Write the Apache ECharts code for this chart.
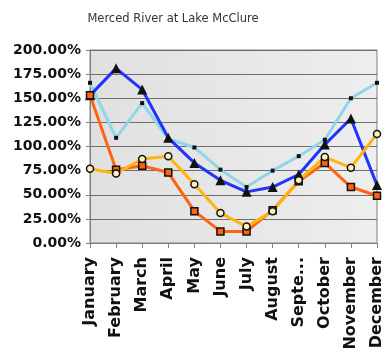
<!DOCTYPE html>
<html>
<head>
<meta charset="utf-8">
<script src="https://cdn.jsdelivr.net/npm/echarts@6/dist/echarts.min.js"></script>
<style>
  html, body { margin: 0; padding: 0; background: #ffffff; }
  #chart { width: 385px; height: 356px; }
</style>
</head>
<body>
<div id="chart"></div>
<script>
// Month labels along the category axis
const monthLabels = ['January', 'February', 'March', 'April', 'May', 'June',
  'July', 'August', 'Septe...', 'October', 'November', 'December'];

// Percent-of-average values per month for each series
const seriesA = [166, 109, 145, 108, 99, 76, 58, 75, 90, 107, 150, 166];   // light blue, small squares
const seriesB = [153, 181, 159, 109, 83, 65, 53, 58, 71, 102, 129, 60];    // dark blue, triangles
const seriesC = [153, 76, 80, 73, 33, 12, 12, 34, 64, 83, 58, 49];         // orange, squares
const seriesD = [77, 72, 87, 90, 61, 31, 17, 33, 65, 89, 78, 113];         // gold, rings

const yTicks = { min: 0, max: 200, interval: 25 };

const chart = echarts.init(document.getElementById('chart'), null, { renderer: 'canvas' });

const labelFont = { fontFamily: 'DejaVu Sans', fontWeight: 'bold', color: '#111' };

function line(data, color, symbol, size, fill, border) {
  return {
    type: 'line',
    data: data,
    symbol: symbol,
    symbolSize: size,
    showAllSymbol: true,
    lineStyle: { color: color, width: 3 },
    itemStyle: { color: fill, borderColor: border, borderWidth: border ? 1.5 : 0 },
    z: 3
  };
}

chart.setOption({
  animation: false,
  backgroundColor: '#ffffff',
  title: {
    text: 'Merced River at Lake McClure',
    left: 168,
    top: 8,
    textAlign: 'center',
    textStyle: { fontFamily: 'DejaVu Sans', fontWeight: 'normal', fontSize: 11.5, color: '#333' }
  },
  grid: {
    left: 90, right: 4, top: 50, bottom: 113,
    show: true,
    backgroundColor: new echarts.graphic.LinearGradient(0, 0, 1, 0, [
      { offset: 0, color: '#e0e0e0' },
      { offset: 1, color: '#eeeeee' }
    ]),
    borderColor: '#808080',
    borderWidth: 1
  },
  xAxis: {
    type: 'category',
    data: monthLabels,
    boundaryGap: false,
    axisLine: { show: true, lineStyle: { color: '#808080' } },
    axisTick: { show: true, alignWithLabel: true, length: 5, lineStyle: { color: '#808080' } },
    axisLabel: Object.assign({ rotate: 90, interval: 0, margin: 14, fontSize: 16 }, labelFont),
    splitLine: { show: false }
  },
  yAxis: {
    type: 'value',
    min: yTicks.min,
    max: yTicks.max,
    interval: yTicks.interval,
    axisLine: { show: true, lineStyle: { color: '#808080' } },
    axisTick: { show: true, length: 4, lineStyle: { color: '#808080' } },
    axisLabel: Object.assign({ margin: 9, fontSize: 14, formatter: v => v.toFixed(2) + '%' }, labelFont),
    splitLine: { show: true, lineStyle: { color: '#6e6e6e', width: 1 } }
  },
  series: [
    line(seriesA, '#8fd6ea', 'rect', 4, '#111', null),
    line(seriesB, '#2233ff', 'triangle', 10, '#111', null),
    line(seriesC, '#ff6410', 'rect', 7, '#ff6410', '#111'),
    line(seriesD, '#ffb412', 'circle', 7, '#fff0c0', '#111')
  ]
});
</script>
</body>
</html>
